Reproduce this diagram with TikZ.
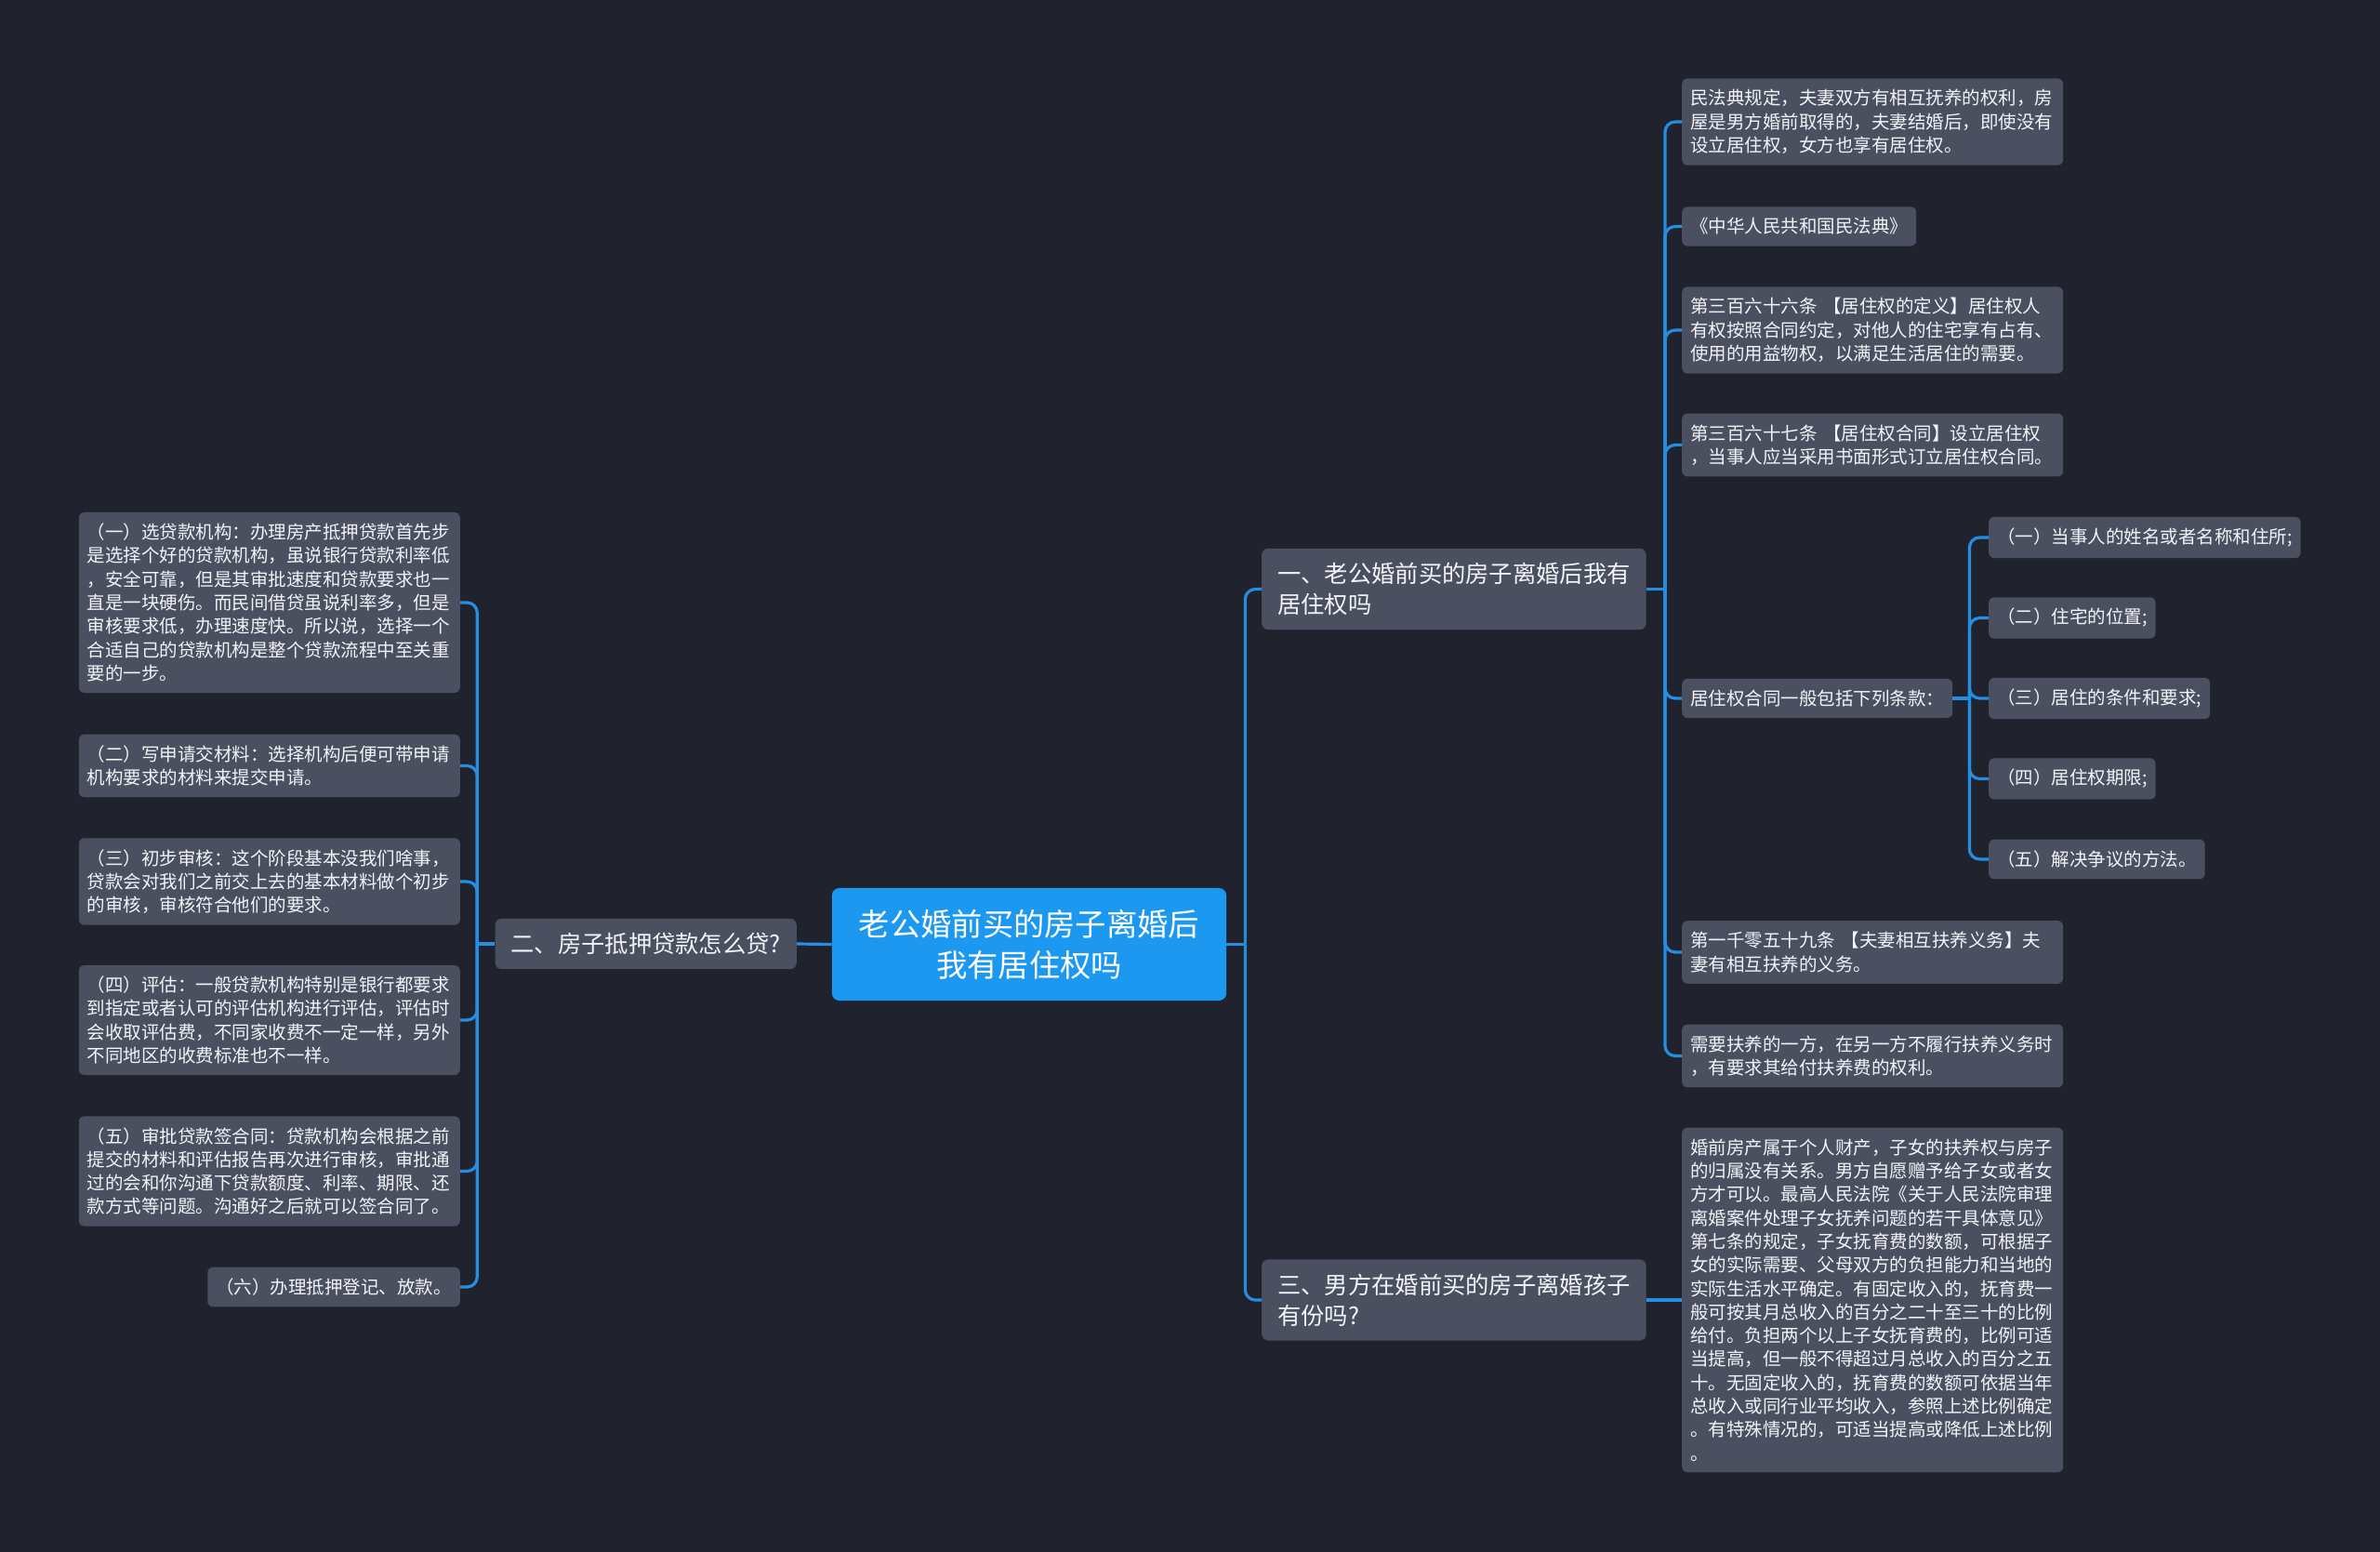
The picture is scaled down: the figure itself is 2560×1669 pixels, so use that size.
\documentclass[tikz,border=0pt]{standalone}
\usepackage{fontspec}
\setmainfont{Noto Sans CJK SC}
\usepackage{tikz}
\usetikzlibrary{positioning,calc}
\definecolor{bgdark}{RGB}{32,35,46}
\definecolor{boxgray}{RGB}{74,80,96}
\definecolor{rootblue}{RGB}{28,152,240}
\definecolor{linkblue}{RGB}{36,142,226}
\definecolor{txtwhite}{RGB}{242,244,248}

\begin{document}
\begin{tikzpicture}[x=1pt, y=-1pt,
  root/.style={fill=rootblue, rounded corners=8pt, text=white, inner xsep=29pt, inner ysep=23pt, align=center, font=\fontsize{33.3}{44}\selectfont},
  topic/.style={fill=boxgray, rounded corners=7pt, text=txtwhite, inner xsep=17pt, inner ysep=15.5pt, align=left, font=\fontsize{25.3}{32.7}\selectfont},
  leaf/.style={fill=boxgray, rounded corners=6pt, text=txtwhite, inner xsep=9pt, inner ysep=12pt, align=left, font=\fontsize{19.5}{25.3}\selectfont},
  wideleaf/.style={leaf, text width=392pt},
  link/.style={draw=linkblue, line width=3.2pt, rounded corners=11pt}]

% Background
\fill[bgdark] (0,0) rectangle (2560,1669);
\useasboundingbox (0,0) rectangle (2560,1669);

% Root
\node[root] (root) at (1107,1015.5) {老公婚前买的房子离婚后\\我有居住权吗};

% Left branch
\node[topic, anchor=east] (loan) at (857,1015) {二、房子抵押贷款怎么贷?};

\node[wideleaf, anchor=east] (l1) at (495,648) {（一）选贷款机构：办理房产抵押贷款首先步\\是选择个好的贷款机构，虽说银行贷款利率低\\，安全可靠，但是其审批速度和贷款要求也一\\直是一块硬伤。而民间借贷虽说利率多，但是\\审核要求低，办理速度快。所以说，选择一个\\合适自己的贷款机构是整个贷款流程中至关重\\要的一步。};
\node[wideleaf, anchor=east] (l2) at (495,823.5) {（二）写申请交材料：选择机构后便可带申请\\机构要求的材料来提交申请。};
\node[wideleaf, anchor=east] (l3) at (495,948) {（三）初步审核：这个阶段基本没我们啥事，\\贷款会对我们之前交上去的基本材料做个初步\\的审核，审核符合他们的要求。};
\node[wideleaf, anchor=east] (l4) at (495,1097) {（四）评估：一般贷款机构特别是银行都要求\\到指定或者认可的评估机构进行评估，评估时\\会收取评估费，不同家收费不一定一样，另外\\不同地区的收费标准也不一样。};
\node[wideleaf, anchor=east] (l5) at (495,1259.5) {（五）审批贷款签合同：贷款机构会根据之前\\提交的材料和评估报告再次进行审核，审批通\\过的会和你沟通下贷款额度、利率、期限、还\\款方式等问题。沟通好之后就可以签合同了。};
\node[leaf, anchor=east] (l6) at (495,1384) {（六）办理抵押登记、放款。};

% Right branches
\node[topic, anchor=west] (house) at (1357,633.5) {一、老公婚前买的房子离婚后我有\\居住权吗};
\node[topic, anchor=west] (child) at (1357,1398) {三、男方在婚前买的房子离婚孩子\\有份吗?};

\node[wideleaf, anchor=west] (r1) at (1809,131) {民法典规定，夫妻双方有相互抚养的权利，房\\屋是男方婚前取得的，夫妻结婚后，即使没有\\设立居住权，女方也享有居住权。};
\node[leaf, anchor=west] (r2) at (1809,243.5) {《中华人民共和国民法典》};
\node[wideleaf, anchor=west] (r3) at (1809,355) {第三百六十六条 【居住权的定义】居住权人\\有权按照合同约定，对他人的住宅享有占有、\\使用的用益物权，以满足生活居住的需要。};
\node[wideleaf, anchor=west] (r4) at (1809,478.5) {第三百六十七条 【居住权合同】设立居住权\\，当事人应当采用书面形式订立居住权合同。};
\node[leaf, anchor=west] (r5) at (1809,751) {居住权合同一般包括下列条款：};
\node[wideleaf, anchor=west] (r6) at (1809,1024) {第一千零五十九条 【夫妻相互扶养义务】夫\\妻有相互扶养的义务。};
\node[wideleaf, anchor=west] (r7) at (1809,1135.5) {需要扶养的一方，在另一方不履行扶养义务时\\，有要求其给付扶养费的权利。};

% Contract clauses
\node[leaf, anchor=west] (s1) at (2139,578) {（一）当事人的姓名或者名称和住所;};
\node[leaf, anchor=west] (s2) at (2139,664.5) {（二）住宅的位置;};
\node[leaf, anchor=west] (s3) at (2139,751) {（三）居住的条件和要求;};
\node[leaf, anchor=west] (s4) at (2139,837.5) {（四）居住权期限;};
\node[leaf, anchor=west] (s5) at (2139,924) {（五）解决争议的方法。};

\node[wideleaf, anchor=west] (r8) at (1809,1398) {婚前房产属于个人财产，子女的扶养权与房子\\的归属没有关系。男方自愿赠予给子女或者女\\方才可以。最高人民法院《关于人民法院审理\\离婚案件处理子女抚养问题的若干具体意见》\\第七条的规定，子女抚育费的数额，可根据子\\女的实际需要、父母双方的负担能力和当地的\\实际生活水平确定。有固定收入的，抚育费一\\般可按其月总收入的百分之二十至三十的比例\\给付。负担两个以上子女抚育费的，比例可适\\当提高，但一般不得超过月总收入的百分之五\\十。无固定收入的，抚育费的数额可依据当年\\总收入或同行业平均收入，参照上述比例确定\\。有特殊情况的，可适当提高或降低上述比例\\。};

% Connectors, left side
\draw[link] (root.west) -- (loan.east);
\path (loan.west) ++(-19,0) coordinate (ljoint);
\draw[link] (loan.west) -- (ljoint);
\foreach \n in {l1,l2,l3,l4,l5,l6}
  \draw[link] (ljoint) |- (\n.east);

% Connectors, right side
\path (root.east) ++(20,0) coordinate (rjoint);
\draw[link] (root.east) -- (rjoint);
\foreach \n in {house,child}
  \draw[link] (rjoint) |- (\n.west);

\path (house.east) ++(20,0) coordinate (hjoint);
\draw[link] (house.east) -- (hjoint);
\foreach \n in {r1,r2,r3,r4,r5,r6,r7}
  \draw[link] (hjoint) |- (\n.west);

\path (r5.east) ++(18,0) coordinate (sjoint);
\draw[link] (r5.east) -- (sjoint);
\foreach \n in {s1,s2,s3,s4,s5}
  \draw[link] (sjoint) |- (\n.west);

\draw[link] (child.east) -- (r8.west);

\end{tikzpicture}
\end{document}
